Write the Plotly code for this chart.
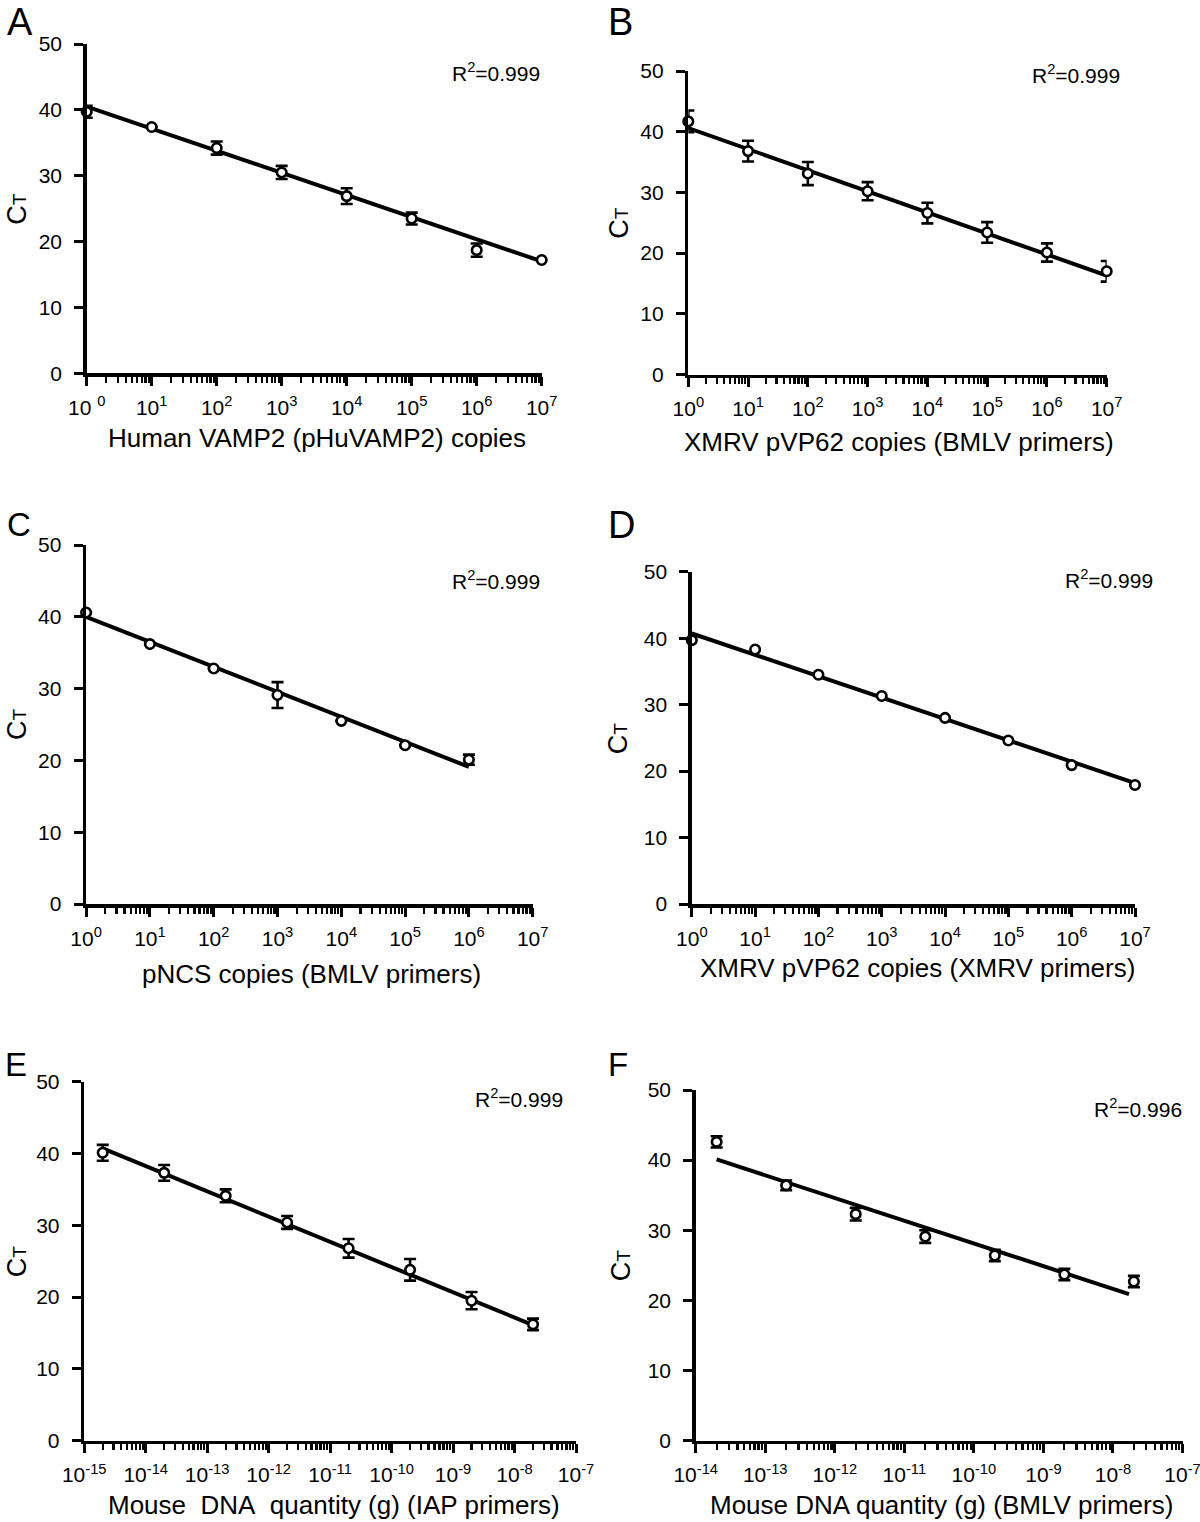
import plotly.graph_objects as go

W, H = 1200, 1522

# ---------------- data ----------------
copies_8 = [1e0, 1e1, 1e2, 1e3, 1e4, 1e5, 1e6, 1e7]
copies_7 = [1e0, 1e1, 1e2, 1e3, 1e4, 1e5, 1e6]
mass_e = [2e-15, 2e-14, 2e-13, 2e-12, 2e-11, 2e-10, 2e-9, 2e-8]
mass_f = [2e-14, 2e-13, 2e-12, 2e-11, 2e-10, 2e-9, 2e-8]

a_ct = [39.7, 37.4, 34.2, 30.5, 26.9, 23.5, 18.7, 17.2]
a_err = [0.9, None, 1.0, 1.0, 1.2, 0.9, 1.0, None]
a_fit_x = [1e0, 1e7]
a_fit_y = [40.5, 17.0]

b_ct = [41.7, 36.8, 33.1, 30.2, 26.6, 23.4, 20.1, 17.0]
b_err = [1.8, 1.7, 1.9, 1.5, 1.7, 1.7, 1.5, 1.7]
b_fit_x = [1e0, 1e7]
b_fit_y = [40.6, 16.3]

c_ct = [40.6, 36.2, 32.8, 29.1, 25.5, 22.1, 20.1]
c_err = [None, None, None, 1.8, None, None, 0.7]
c_fit_x = [1e0, 1e6]
c_fit_y = [40.0, 19.1]

d_ct = [39.7, 38.3, 34.5, 31.3, 28.0, 24.6, 20.9, 17.9]
d_err = [None] * 8
d_fit_x = [1e0, 1e7]
d_fit_y = [40.7, 18.2]

e_ct = [40.1, 37.3, 34.1, 30.4, 26.8, 23.8, 19.5, 16.2]
e_err = [1.1, 1.1, 0.9, 0.9, 1.3, 1.5, 1.2, 0.8]
e_fit_x = [2e-15, 2e-8]
e_fit_y = [40.7, 16.1]

f_ct = [42.6, 36.4, 32.3, 29.1, 26.4, 23.7, 22.7]
f_err = [0.8, 0.7, 0.9, 0.9, 0.8, 0.8, 0.8]
f_fit_x = [2e-14, 1.7e-8]
f_fit_y = [40.1, 20.9]

r2_text = ["0.999", "0.999", "0.999", "0.999", "0.999", "0.996"]
x_titles = [
    "Human VAMP2 (pHuVAMP2) copies",
    "XMRV pVP62 copies (BMLV primers)",
    "pNCS copies (BMLV primers)",
    "XMRV pVP62 copies (XMRV primers)",
    "Mouse\u00a0\u00a0DNA\u00a0\u00a0quantity (g) (IAP primers)",
    "Mouse DNA quantity (g) (BMLV primers)",
]
letters = ["A", "B", "C", "D", "E", "F"]
y_ticks = [0, 10, 20, 30, 40, 50]

panels = [
    dict(x=copies_8, y=a_ct, err=a_err, fx=a_fit_x, fy=a_fit_y, dec=(0, 7)),
    dict(x=copies_8, y=b_ct, err=b_err, fx=b_fit_x, fy=b_fit_y, dec=(0, 7)),
    dict(x=copies_7, y=c_ct, err=c_err, fx=c_fit_x, fy=c_fit_y, dec=(0, 7)),
    dict(x=copies_8, y=d_ct, err=d_err, fx=d_fit_x, fy=d_fit_y, dec=(0, 7)),
    dict(x=mass_e, y=e_ct, err=e_err, fx=e_fit_x, fy=e_fit_y, dec=(-15, -7)),
    dict(x=mass_f, y=f_ct, err=f_err, fx=f_fit_x, fy=f_fit_y, dec=(-14, -7)),
]

# ---------------- layout geometry (pixels) ----------------
boxes = [  # x0, x1, ytop, ybottom
    (86.7, 541.7, 44.0, 373.3),
    (688.3, 1106.7, 71.0, 374.5),
    (86.1, 532.7, 545.0, 904.0),
    (691.8, 1135.0, 571.7, 904.0),
    (84.2, 576.0, 1081.7, 1440.7),
    (695.7, 1182.5, 1090.0, 1440.7),
]
letter_pos = [(19.5, 22.5, 38), (620, 22, 38), (19, 525, 33), (621, 525, 38), (16, 1064, 33), (618, 1064, 33)]
r2_pos = [(541.5, 72), (1122, 74), (541.5, 579.5), (1155, 579), (564.5, 1097.5), (1183.6, 1107.5)]
xt_pos = [(316.7, 438), (899, 442), (311, 974), (917, 968), (334, 1505), (941.5, 1505)]
yt_x = [17, 619, 16.5, 617.5, 17, 621]

FONT = "Liberation Sans, Arial, Helvetica, sans-serif"


def px(x):
    return x / W


def py(y):
    return 1 - y / H


fig = go.Figure()
annotations = []

for i, p in enumerate(panels):
    n = i + 1
    xa = "x" if n == 1 else f"x{n}"
    ya = "y" if n == 1 else f"y{n}"
    x0, x1, yt, yb = boxes[i]
    lo, hi = p["dec"]

    fig.add_trace(go.Scatter(
        x=p["fx"], y=p["fy"], mode="lines",
        line=dict(color="black", width=4),
        xaxis=xa, yaxis=ya, showlegend=False, hoverinfo="skip",
    ))
    has_err = any(e is not None for e in p["err"])
    fig.add_trace(go.Scatter(
        x=p["x"], y=p["y"], mode="markers",
        marker=dict(symbol="circle", size=9.5, color="white",
                    line=dict(color="black", width=2.6)),
        error_y=dict(type="data", array=p["err"], visible=has_err,
                     color="black", thickness=2.6, width=6),
        xaxis=xa, yaxis=ya, showlegend=False, cliponaxis=False,
    ))

    decades = list(range(lo, hi + 1))
    tickvals = [10.0 ** d for d in decades]
    if i == 0:
        ticktext = ["10 <sup>0</sup>"] + [f"10<sup>{d}</sup>" for d in decades[1:]]
    else:
        ticktext = [f"10<sup>{d}</sup>" for d in decades]
    minor_vals = [k * 10.0 ** d for d in decades[:-1] for k in range(2, 10)]

    xkey = "xaxis" if n == 1 else f"xaxis{n}"
    ykey = "yaxis" if n == 1 else f"yaxis{n}"
    fig.update_layout(**{
        xkey: dict(
            type="log", range=[lo, hi], domain=[px(x0), px(x1)], anchor=ya,
            showline=True, linecolor="black", linewidth=3.5,
            showgrid=False, zeroline=False, automargin=False,
            ticks="outside", ticklen=9, tickwidth=3, tickcolor="black",
            tickmode="array", tickvals=tickvals, ticktext=ticktext,
            tickfont=dict(family=FONT, size=21, color="black"),
            ticklabelstandoff=4, ticklabeloverflow="allow",
            minor=dict(tickmode="array", tickvals=minor_vals, ticks="outside",
                       ticklen=6, tickwidth=2.2, tickcolor="black", showgrid=False),
        ),
        ykey: dict(
            range=[0, 50], domain=[py(yb), py(yt)], anchor=xa,
            showline=True, linecolor="black", linewidth=3.5,
            showgrid=False, zeroline=False, automargin=False,
            ticks="outside", ticklen=9, tickwidth=3, tickcolor="black",
            tickmode="array", tickvals=y_ticks,
            tickfont=dict(family=FONT, size=21, color="black"),
            ticklabelstandoff=8, ticklabeloverflow="allow",
        ),
    })

    lx, ly, ls = letter_pos[i]
    annotations.append(dict(text=letters[i], x=px(lx), y=py(ly), xref="paper", yref="paper",
                            xanchor="center", yanchor="middle", showarrow=False,
                            font=dict(family=FONT, size=ls, color="black")))
    rx, ry = r2_pos[i]
    annotations.append(dict(text=f"R<sup>2</sup>={r2_text[i]}", x=px(rx), y=py(ry),
                            xref="paper", yref="paper", xanchor="right", yanchor="middle",
                            showarrow=False, font=dict(family=FONT, size=21, color="black")))
    tx, ty = xt_pos[i]
    annotations.append(dict(text=x_titles[i], x=px(tx), y=py(ty), xref="paper", yref="paper",
                            xanchor="center", yanchor="middle", showarrow=False,
                            font=dict(family=FONT, size=26, color="black")))
    annotations.append(dict(text="C<span style='font-size:19px'>T</span>",
                            x=px(yt_x[i]), y=py((yt + yb) / 2), xref="paper", yref="paper",
                            xanchor="center", yanchor="middle", textangle=-90, showarrow=False,
                            font=dict(family=FONT, size=27, color="black")))

fig.update_layout(
    width=W, height=H, autosize=False,
    margin=dict(l=0, r=0, t=0, b=0, pad=0, autoexpand=False),
    paper_bgcolor="white", plot_bgcolor="white",
    annotations=annotations,
)

fig.write_html(
    "out.html",
    config={"displayModeBar": False, "staticPlot": True},
    post_script="document.body.style.margin='0';document.body.style.padding='0';"
                "document.documentElement.style.overflow='hidden';",
)
